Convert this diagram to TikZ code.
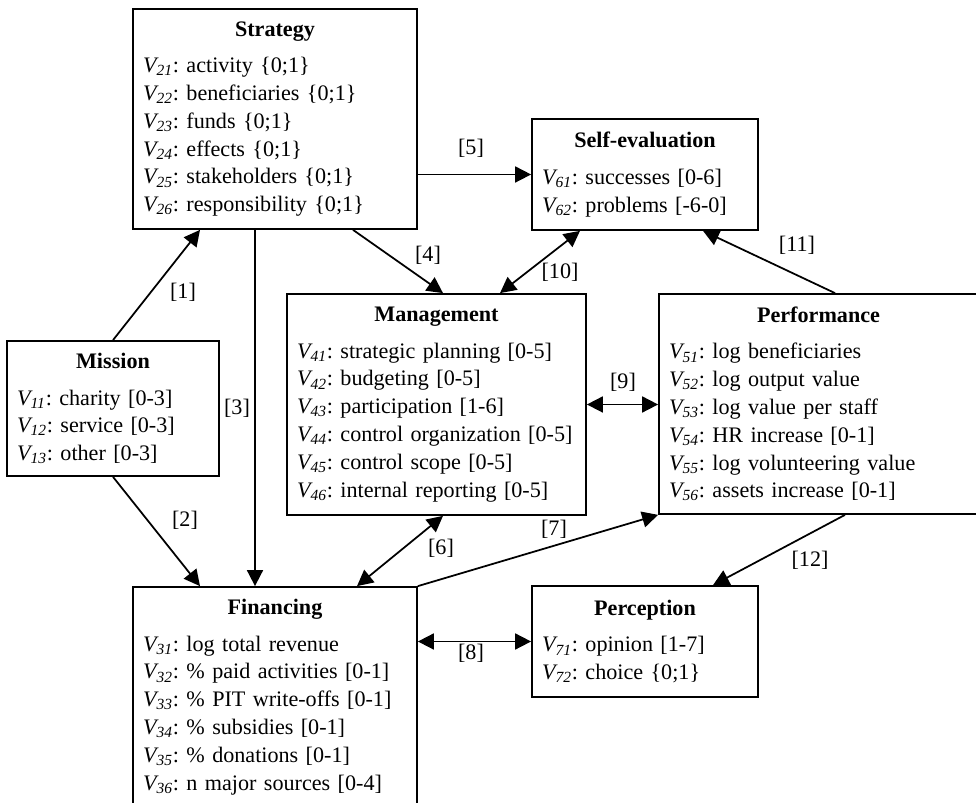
\documentclass[tikz,border=0pt]{standalone}
\usepackage{fontspec}
\setmainfont{Liberation Serif}
\usepackage{tikz}
\usetikzlibrary{arrows.meta, positioning, calc}
\newcommand{\vname}[1]{\textit{V\textsubscript{#1}}}
\newcommand{\boxhead}[1]{\hfill\textbf{#1}\hfill\null\\[5pt]}
\frenchspacing

\begin{document}
\begin{tikzpicture}[
    >={Triangle[length=0.32cm, width=0.32cm]},
    every node/.style={font=\fontsize{12.6}{15.8}\selectfont},
    varbox/.style={draw, line width=1pt, align=left, inner xsep=0.2cm, inner ysep=0pt},
    link/.style={line width=1pt},
    lbl/.style={inner sep=1pt},
]
    \useasboundingbox (0,0) rectangle (19.52,16.06);
    \node[varbox, text width=5.28cm, minimum height=4.40cm] (strat) at (5.50,13.68) {
        \boxhead{Strategy}
        \vname{21}: activity \{0;1\}\\
        \vname{22}: beneficiaries \{0;1\}\\
        \vname{23}: funds \{0;1\}\\
        \vname{24}: effects \{0;1\}\\
        \vname{25}: stakeholders \{0;1\}\\
        \vname{26}: responsibility \{0;1\}
    };
    \node[varbox, text width=4.12cm, minimum height=2.22cm] (self) at (12.90,12.57) {
        \boxhead{Self-evaluation}
        \vname{61}: successes [0-6]\\
        \vname{62}: problems [-6-0]
    };
    \node[varbox, text width=3.84cm, minimum height=2.70cm] (miss) at (2.26,7.89) {
        \boxhead{Mission}
        \vname{11}: charity [0-3]\\
        \vname{12}: service [0-3]\\
        \vname{13}: other [0-3]
    };
    \node[varbox, text width=5.58cm, minimum height=4.42cm] (mgmt) at (8.73,7.97) {
        \boxhead{Management}
        \vname{41}: strategic planning [0-5]\\
        \vname{42}: budgeting [0-5]\\
        \vname{43}: participation [1-6]\\
        \vname{44}: control organization [0-5]\\
        \vname{45}: control scope [0-5]\\
        \vname{46}: internal reporting [0-5]
    };
    \node[varbox, text width=5.98cm, minimum height=4.40cm] (perf) at (16.37,7.98) {
        \boxhead{Performance}
        \vname{51}: log beneficiaries\\
        \vname{52}: log output value\\
        \vname{53}: log value per staff\\
        \vname{54}: HR increase [0-1]\\
        \vname{55}: log volunteering value\\
        \vname{56}: assets increase [0-1]
    };
    \node[varbox, text width=5.28cm, minimum height=4.40cm] (fin) at (5.50,2.12) {
        \boxhead{Financing}
        \vname{31}: log total revenue\\
        \vname{32}: \% paid activities [0-1]\\
        \vname{33}: \% PIT write-offs [0-1]\\
        \vname{34}: \% subsidies [0-1]\\
        \vname{35}: \% donations [0-1]\\
        \vname{36}: n major sources [0-4]
    };
    \node[varbox, text width=4.12cm, minimum height=2.22cm] (perc) at (12.90,3.23) {
        \boxhead{Perception}
        \vname{71}: opinion [1-7]\\
        \vname{72}: choice \{0;1\}
    };

    % links
    \draw[link, ->] (miss.north) -- ([xshift=-1.5cm]strat.south);
    \draw[link, ->] (miss.south) -- ([xshift=-1.5cm]fin.north);
    \draw[link, ->] ([xshift=-0.4cm]strat.south) -- ([xshift=-0.4cm]fin.north);
    \draw[link, ->] ([xshift=1.56cm]strat.south) -- ([xshift=0.13cm]mgmt.north);
    \draw[link, ->] (self.west -| strat.east) -- (self.west);
    \draw[link, <->] ([xshift=-1.3cm]self.south) -- ([xshift=1.27cm]mgmt.north);
    \draw[link, ->] ([xshift=0.33cm]perf.north) -- ([xshift=1.16cm]self.south);
    \draw[link, <->] (mgmt.east) -- (mgmt.east -| perf.west);
    \draw[link, <->] ([xshift=1.64cm]fin.north) -- ([xshift=0.13cm]mgmt.south);
    \draw[link, ->] (fin.north east) -- (perf.south west);
    \draw[link, <->] (perc.west -| fin.east) -- (perc.west);
    \draw[link, ->] ([xshift=0.53cm]perf.south) -- ([xshift=1.36cm]perc.north);

    % link numbers
    \node[lbl] (l1) at (3.66,10.22) {[1]};
    \node[lbl] (l2) at (3.70,5.66) {[2]};
    \node[lbl] (l3) at (4.74,7.90) {[3]};
    \node[lbl] (l4) at (8.56,10.96) {[4]};
    \node[lbl] (l5) at (9.42,13.10) {[5]};
    \node[lbl] (l6) at (8.82,5.10) {[6]};
    \node[lbl] (l7) at (11.08,5.48) {[7]};
    \node[lbl] (l8) at (9.42,3.00) {[8]};
    \node[lbl] (l9) at (12.46,8.42) {[9]};
    \node[lbl] (l10) at (11.20,10.62) {[10]};
    \node[lbl] (l11) at (15.94,11.16) {[11]};
    \node[lbl] (l12) at (16.20,4.86) {[12]};
\end{tikzpicture}
\end{document}
